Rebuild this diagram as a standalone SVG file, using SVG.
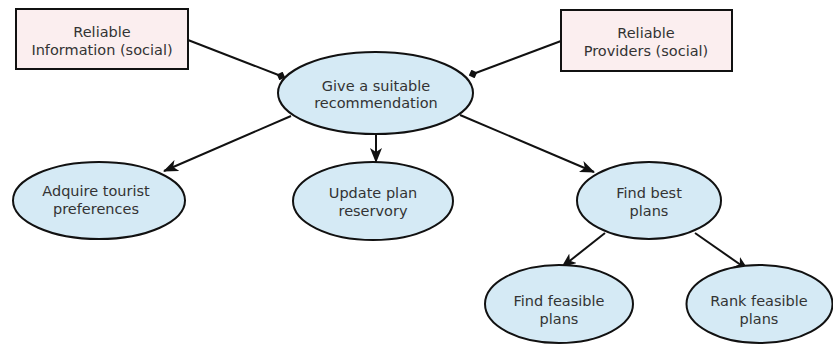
<svg xmlns="http://www.w3.org/2000/svg" width="833" height="344" viewBox="0 0 833 344">
  <style>
    .box { fill: #fbeeef; stroke: #111; stroke-width: 2; }
    .goal { fill: #d5eaf5; stroke: #111; stroke-width: 2; }
    .lbl { font-family: "DejaVu Sans", sans-serif; font-size: 14.5px; fill: #333; text-anchor: middle; }
    .edge { stroke: #111; stroke-width: 2; fill: none; }
  </style>
  <defs>
    <marker id="arrow" viewBox="0 0 15 12" refX="14" refY="6" markerWidth="15" markerHeight="12" markerUnits="userSpaceOnUse" orient="auto">
      <path d="M0,0 L15,6 L0,12 L4,6 Z" fill="#111"/>
    </marker>
    <marker id="dot" viewBox="0 0 9 9" refX="4.5" refY="4.5" markerWidth="9" markerHeight="9" markerUnits="userSpaceOnUse" orient="auto">
      <path d="M0,4.5 L4.5,0 L9,4.5 L4.5,9 Z" fill="#111"/>
    </marker>
  </defs>

  <g id="connectors">
    <line class="edge" x1="188" y1="40" x2="281" y2="76" marker-end="url(#dot)"/>
    <line class="edge" x1="561" y1="41" x2="473" y2="74" marker-end="url(#dot)"/>
    <line class="edge" x1="291" y1="116" x2="164" y2="171" marker-end="url(#arrow)"/>
    <line class="edge" x1="376" y1="134" x2="376" y2="162" marker-end="url(#arrow)"/>
    <line class="edge" x1="460" y1="115" x2="594" y2="172" marker-end="url(#arrow)"/>
    <line class="edge" x1="605" y1="233" x2="562" y2="267" marker-end="url(#arrow)"/>
    <line class="edge" x1="695" y1="233" x2="748" y2="270" marker-end="url(#arrow)"/>
  </g>

  <g id="reliable-information">
    <rect class="box" x="16" y="9" width="172" height="60"/>
    <text class="lbl" x="102" y="37">Reliable</text>
    <text class="lbl" x="102" y="55">Information (social)</text>
  </g>

  <g id="reliable-providers">
    <rect class="box" x="561" y="10" width="171" height="61"/>
    <text class="lbl" x="646" y="38">Reliable</text>
    <text class="lbl" x="646" y="56">Providers (social)</text>
  </g>

  <g id="give-recommendation">
    <ellipse class="goal" cx="375.5" cy="93" rx="97.5" ry="41"/>
    <text class="lbl" x="376" y="91">Give a suitable</text>
    <text class="lbl" x="376" y="108">recommendation</text>
  </g>

  <g id="adquire-preferences">
    <ellipse class="goal" cx="99" cy="200.5" rx="86" ry="38.5"/>
    <text class="lbl" x="96" y="196">Adquire tourist</text>
    <text class="lbl" x="96" y="214">preferences</text>
  </g>

  <g id="update-reservory">
    <ellipse class="goal" cx="373" cy="201" rx="80" ry="39"/>
    <text class="lbl" x="373" y="198">Update plan</text>
    <text class="lbl" x="373" y="216">reservory</text>
  </g>

  <g id="find-best-plans">
    <ellipse class="goal" cx="649" cy="200.5" rx="72" ry="38.5"/>
    <text class="lbl" x="649" y="198">Find best</text>
    <text class="lbl" x="649" y="216">plans</text>
  </g>

  <g id="find-feasible-plans">
    <ellipse class="goal" cx="559" cy="304" rx="74" ry="39"/>
    <text class="lbl" x="559" y="306">Find feasible</text>
    <text class="lbl" x="559" y="324">plans</text>
  </g>

  <g id="rank-feasible-plans">
    <ellipse class="goal" cx="759.5" cy="304" rx="73" ry="39"/>
    <text class="lbl" x="759" y="306">Rank feasible</text>
    <text class="lbl" x="759" y="324">plans</text>
  </g>
</svg>
